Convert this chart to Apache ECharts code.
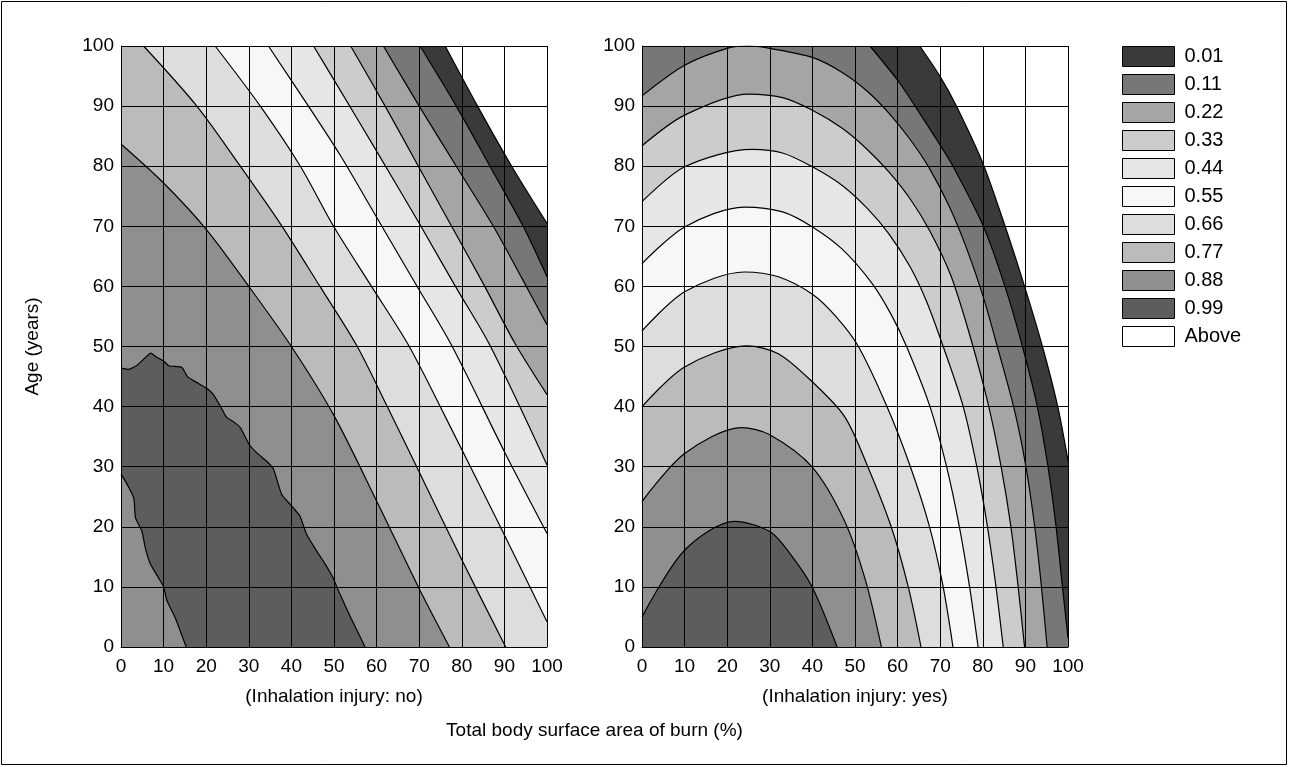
<!DOCTYPE html>
<html><head><meta charset="utf-8">
<script src="https://cdn.jsdelivr.net/npm/echarts@6/dist/echarts.min.js"></script>
<style>html,body{margin:0;padding:0;background:#fff}#c{width:1289px;height:767px}</style>
</head><body><div id="c"></div>
<script>
// ---------- data ----------
const axisTicks = [0, 10, 20, 30, 40, 50, 60, 70, 80, 90, 100];
const levels = ['0.01', '0.11', '0.22', '0.33', '0.44', '0.55', '0.66', '0.77', '0.88', '0.99', 'Above'];
const panelNames = ['(Inhalation injury: no)', '(Inhalation injury: yes)'];
const yName = 'Age (years)';
const xTitle = 'Total body surface area of burn (%)';

// Left panel (no inhalation injury): contour boundaries [TBSA, age]; each fills below with its level
const leftC10 = [[0,100],[76.1,100],[83.7,90],[91.7,80],[100,70.5]];                       // 0.01
const leftC9  = [[0,100],[70.2,100],[78.7,90],[86.6,80],[94.4,70],[100,61.6]];              // 0.11
const leftC8  = [[0,100],[61.6,100],[70,90],[78.7,80],[87.4,70],[94,61.5],[100,53.6]];      // 0.22
const leftC7  = [[0,100],[53.9,100],[62,90],[69.8,80],[77.6,70],[85,60.5],[92.5,50.5],[100,42]]; // 0.33
const leftC6  = [[0,100],[45.2,100],[51.4,92.7],[60,82.5],[70,70.5],[78.5,60],[86.6,50.2],[100,30.3]]; // 0.44
const leftC5  = [[0,100],[34.6,100],[44,90],[51.4,81.9],[60,71.5],[69,60.6],[77.6,50.2],[90,32.5],[100,18.9]]; // 0.55
const leftC4  = [[0,100],[22.1,100],[32.7,90],[42.1,80],[49.9,70],[58.8,60],[67.5,50.2],[76,38.5],[88,21.5],[100,4.2]]; // 0.66
const leftC3  = [[0,100],[5.3,100],[17.8,90],[28,80],[37.8,70],[46.7,60],[55.3,50.2],[62.5,40],[70,29.1],[80,14.5],[90.3,0]]; // 0.77
const leftC2  = [[0,83.7],[10,77.2],[20,69.5],[30,60],[40,50],[50,38.5],[60,24.3],[70,9.7],[77.1,0]]; // 0.88
const leftC1u = [[0,46.4],[1.8,46.2],[3.8,46.9],[5.3,47.9],[7,48.9],[8.4,48.2],[10,47.6],[11.2,46.8],[14.3,46.5],
  [15.6,45],[17.8,44],[20.2,43],[21.7,42],[23.3,40.1],[24.8,38.2],[26.4,37.5],[28,36.5],[30.1,33.7],[31.9,32.3],
  [34.2,30.9],[35.8,29.6],[37.7,25.4],[40,23.5],[42,21.8],[43.6,18.7],[45.9,16],[47.5,14.3],[49.1,12.4],[49.8,11.5],
  [51.4,8.8],[54,4.8],[57.3,0]];                                                             // 0.99
const leftC1l = [[0,28.8],[1.4,27.1],[3,24.8],[3.4,21.5],[4.9,19.3],[5.7,16.5],[6.9,13.8],[8.8,11.5],[10,10],
  [10.8,7.7],[12.7,4.9],[15.3,0]];                                                           // 0.88

// Right panel (inhalation injury)
const rightC10 = [[0,100],[65.2,100],[70,94.9],[73.8,90],[80,80.5],[85,70.5],[89.8,60],[94,50],[97.6,40],[100,31]]; // 0.01
const rightC9  = [[0,100],[53.5,100],[60,94.3],[64.1,90],[70,83.5],[73,80],[80,70.2],[85.2,60],[89.3,50],[92.8,40],[95.3,30],[97.2,20],[98.7,10],[100,1.5]]; // 0.11
const rightT1  = [[0,91.7],[10,96.8],[20,99.6],[25,100],[30,99.6],[40,98.1],[47,95.6],[53,92.4],[58,88.8],[63,84.4],[67.5,79.6],[72,73.5],[76,66.7],[80,58.5],[83.6,49.5],[87.4,39.5],[90,30.5],[92.1,20.5],[93.7,10.5],[95.1,0]]; // 0.22
const rightT2  = [[0,83.4],[10,88.5],[25,92],[33,91.4],[40,89.3],[47,86.3],[53,82.7],[58,79],[63,74.5],[67.5,69.3],[72.5,61.8],[77.3,51],[81.4,40],[84.3,30],[86.6,20],[88.3,10],[89.8,0]]; // 0.33
const rightT3  = [[0,74.1],[10,79.9],[25.8,82.8],[33,82.2],[40,79.9],[47,76.8],[53,72.9],[58,68.7],[63,63.2],[66.8,57.5],[70.7,50],[75.4,40],[78.6,30],[81.1,20],[83.1,10],[84.8,0]]; // 0.44
const rightT4  = [[0,63.8],[10,69.9],[24,73.2],[33,72.4],[40,69.9],[47,66.2],[54,60.5],[58.5,55.3],[62.1,50],[67.6,40],[71.5,30],[74.5,20],[76.9,10],[78.9,0]]; // 0.55
const rightT5  = [[0,52.6],[10,59.1],[24,62.4],[32,61.6],[40,58.7],[45.5,55],[50.8,50],[57.5,40],[63,30],[67.5,20],[70.7,10],[73,0]]; // 0.66
const rightT6  = [[0,40],[10,46.6],[24.6,50.1],[32,48.8],[40,44.1],[47.6,38.3],[53,30],[58.5,20],[62.5,10],[65.5,0]]; // 0.77
const rightT7  = [[0,24.2],[10,32.2],[23.4,36.5],[30,35.3],[40,29.9],[47.6,20.9],[52.5,11],[56.2,0]]; // 0.88
const rightT8  = [[0,5],[10,16.1],[21.8,20.9],[30,19.2],[35,15.3],[40,9.9],[45.8,0]]; // 0.99

// ---------- styles ----------
const levelColors = {
  '0.01':'#3a3a3a','0.11':'#777777','0.22':'#a5a5a5','0.33':'#cccccc','0.44':'#e6e6e6','0.55':'#f7f7f7',
  '0.66':'#dddddd','0.77':'#bbbbbb','0.88':'#8f8f8f','0.99':'#5d5d5d','Above':'#ffffff'
};
const FONT = '"Liberation Sans", Arial, Helvetica, sans-serif';
const SEAM = 0.3; // small overlap (in axis units) between the flat top piece and the curved piece

function lineSeries(panel, level, data, smooth, drawLine) {
  return {
    type: 'line', name: level, xAxisIndex: panel, yAxisIndex: panel, data: data,
    symbol: 'none', showSymbol: false, smooth: smooth,
    lineStyle: drawLine ? { color: '#000', width: 1.2 } : { width: 0, opacity: 0 },
    itemStyle: { color: levelColors[level] },
    areaStyle: { color: levelColors[level], opacity: 1 },
    silent: true, z: 2
  };
}
// A band: region below the boundary curve painted with the level colour.
// A leading flat run along the top edge is painted as its own straight piece so the curve keeps its shape.
function band(panel, level, data, smooth) {
  const s = smooth == null ? 0.3 : smooth;
  const top = axisTicks[axisTicks.length - 1];
  let k = 0;
  while (k + 1 < data.length && data[0][1] === top && data[k + 1][1] === top) k++;
  if (k > 0) {
    const flat = data.slice(0, k).concat([[data[k][0] + SEAM, top]]);
    return [lineSeries(panel, level, flat, false, false),
            lineSeries(panel, level, data.slice(k), s, true)];
  }
  return [lineSeries(panel, level, data, s, true)];
}

const series = [].concat(
  band(0,'0.01',leftC10), band(0,'0.11',leftC9), band(0,'0.22',leftC8), band(0,'0.33',leftC7),
  band(0,'0.44',leftC6), band(0,'0.55',leftC5), band(0,'0.66',leftC4), band(0,'0.77',leftC3),
  band(0,'0.88',leftC2), band(0,'0.99',leftC1u,0.15), band(0,'0.88',leftC1l,0.15),
  band(1,'0.01',rightC10), band(1,'0.11',rightC9), band(1,'0.22',rightT1), band(1,'0.33',rightT2),
  band(1,'0.44',rightT3), band(1,'0.55',rightT4), band(1,'0.66',rightT5), band(1,'0.77',rightT6),
  band(1,'0.88',rightT7), band(1,'0.99',rightT8),
  [{ type: 'line', name: 'Above', xAxisIndex: 0, yAxisIndex: 0, data: [], itemStyle: { color: '#fff' } }]
);

function xAx(i) {
  return {
    gridIndex: i, type: 'value', min: axisTicks[0], max: axisTicks[axisTicks.length-1],
    interval: axisTicks[1]-axisTicks[0], z: 10,
    name: panelNames[i], nameLocation: 'middle', nameGap: 40,
    nameTextStyle: { fontSize: 19, color: '#000', fontFamily: FONT, lineHeight: 19 },
    axisLine: { show: true, lineStyle: { color: '#000', width: 1 } },
    axisTick: { show: false },
    axisLabel: { fontSize: 19, color: '#000', fontFamily: FONT, margin: 10, lineHeight: 19 },
    splitLine: { show: true, lineStyle: { color: '#000', width: 1 } }
  };
}
function yAx(i) {
  return {
    gridIndex: i, type: 'value', min: axisTicks[0], max: axisTicks[axisTicks.length-1],
    interval: axisTicks[1]-axisTicks[0], z: 10,
    name: i === 0 ? yName : '', nameLocation: 'middle', nameGap: 79,
    nameTextStyle: { fontSize: 19, color: '#000', fontFamily: FONT },
    axisLine: { show: true, lineStyle: { color: '#000', width: 1 } },
    axisTick: { show: false },
    axisLabel: { fontSize: 19, color: '#000', fontFamily: FONT, margin: 7 },
    splitLine: { show: true, lineStyle: { color: '#000', width: 1 } }
  };
}

const option = {
  animation: false,
  backgroundColor: '#fff',
  grid: [
    { left: 121, top: 46, width: 426, height: 601 },
    { left: 642, top: 46, width: 426, height: 601 }
  ],
  xAxis: [xAx(0), xAx(1)],
  yAxis: [yAx(0), yAx(1)],
  legend: {
    orient: 'vertical', left: 1117, top: 41, itemWidth: 52, itemHeight: 20, itemGap: 7,
    icon: 'rect', selectedMode: false,
    itemStyle: { borderColor: '#000', borderWidth: 1 },
    textStyle: { fontSize: 20, color: '#000', fontFamily: FONT, padding: [0, 0, 0, 5] },
    data: levels.map(l => ({ name: l, icon: 'rect', itemStyle: { color: levelColors[l], borderColor: '#000', borderWidth: 1 } }))
  },
  graphic: [
    { type: 'rect', shape: { x: 1.5, y: 1.5, width: 1285, height: 763 }, style: { fill: null, stroke: '#000', lineWidth: 1 }, silent: true },
    { type: 'text', x: 594.5, y: 731, style: { text: xTitle, fontSize: 19, fontFamily: FONT, fill: '#000', textAlign: 'center', textVerticalAlign: 'middle' } }
  ],
  series: series
};

const chart = echarts.init(document.getElementById('c'), null, { renderer: 'canvas' });
chart.setOption(option);
</script></body></html>
